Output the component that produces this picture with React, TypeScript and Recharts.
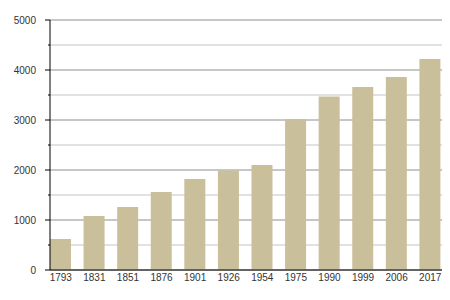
import React from 'react';
import { BarChart, Bar, XAxis, YAxis, CartesianGrid } from 'recharts';

const years = ['1793', '1831', '1851', '1876', '1901', '1926', '1954', '1975', '1990', '1999', '2006', '2017'];
const population = [620, 1080, 1260, 1560, 1820, 1990, 2100, 3020, 3470, 3660, 3860, 4220];
const yTicks = [0, 500, 1000, 1500, 2000, 2500, 3000, 3500, 4000, 4500, 5000];

const data = years.map((year, i) => ({ year, value: population[i] }));

const font = '"Liberation Sans", Arial, sans-serif';

const YTick = (props: any) => {
  const { x, y, payload } = props;
  const major = payload.value % 1000 === 0;
  return (
    <g>
      <line x1={x - (major ? 5 : 2)} x2={x} y1={y} y2={y} stroke="#000" strokeWidth={1} />
      {major && (
        <text x={x - 14} y={y} dy="0.36em" textAnchor="end" fontSize={10} fill="#333" fontFamily={font}>
          {payload.value}
        </text>
      )}
    </g>
  );
};

const GridLine = (props: any) => {
  const { x1, x2, y1, y2, index } = props;
  return (
    <line
      x1={x1}
      x2={x2}
      y1={y1}
      y2={y2}
      stroke={index % 2 === 0 ? '#8e8e8e' : '#c4c4c4'}
      strokeWidth={1}
    />
  );
};

const App: React.FC = () => {
  return (
    <div style={{ position: 'absolute', left: 0, top: 0, width: 450, height: 300, background: '#fff' }}>
      <BarChart width={450} height={300} data={data} margin={{ top: 20, right: 8, bottom: 0, left: 0 }}>
        <CartesianGrid vertical={false} horizontal={GridLine} />
        <XAxis
          dataKey="year"
          height={30}
          padding={{ left: -6, right: -5 }}
          tickLine={false}
          tickSize={0}
          tickMargin={4}
          axisLine={{ stroke: '#000' }}
          tick={{ fontSize: 10, fill: '#333', fontFamily: font }}
          interval={0}
        />
        <YAxis
          width={50}
          domain={[0, 5000]}
          ticks={yTicks}
          interval={0}
          tickLine={false}
          tickSize={0}
          tickMargin={0}
          axisLine={{ stroke: '#000' }}
          tick={YTick}
        />
        <Bar dataKey="value" fill="#c9bf9b" barSize={21} isAnimationActive={false} />
      </BarChart>
    </div>
  );
};

export default App;
